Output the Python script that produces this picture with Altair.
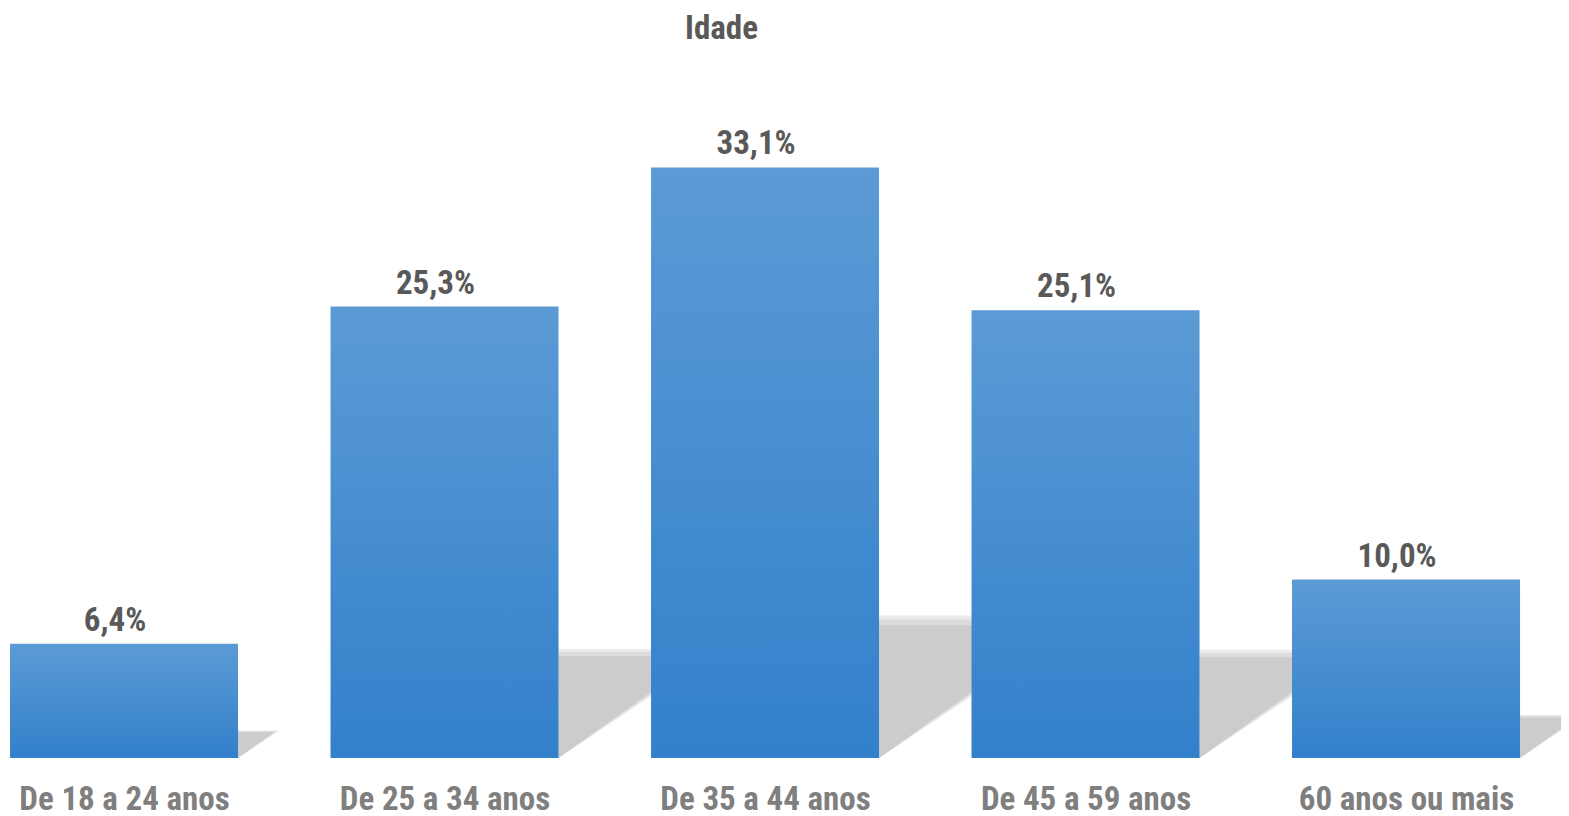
import altair as alt
import pandas as pd

categories = ["De 18 a 24 anos", "De 25 a 34 anos", "De 35 a 44 anos", "De 45 a 59 anos", "60 anos ou mais"]
values = [6.4, 25.3, 33.1, 25.1, 10.0]
title_text = "Idade"

FONT = "Roboto Condensed, Noto Sans Condensed, DejaVu Sans Condensed, sans-serif"
FS = 33
HALF = 0.3557          # half bar width in category units
SH_K = 0.23            # shadow height as share of bar value
SH_DX = 0.01829        # shadow horizontal reach per value unit

bars = pd.DataFrame({
    "idx": list(range(len(categories))),
    "cat": categories,
    "val": values,
    "lab": [f"{v:.1f}".replace(".", ",") + "%" for v in values],
})
bars["x0"] = bars["idx"] - HALF
bars["x1"] = bars["idx"] + HALF


def shadow_rows(scale_h, scale_w):
    rows = []
    for i, v in enumerate(values):
        xr = i + HALF
        top = SH_K * v * scale_h
        rows.append({"cat": categories[i], "x": xr, "yt": top, "yb": 0.0})
        rows.append({"cat": categories[i], "x": xr + SH_DX * v * scale_w, "yt": top, "yb": top})
    return pd.DataFrame(rows)


shadow_soft = shadow_rows(1.05, 1.10)
shadow_mid = shadow_rows(1.02, 1.03)
shadow_core = shadow_rows(0.98, 0.96)

label_expr = "[" + ",".join("'" + c + "'" for c in categories) + "][datum.value]"

xscale = alt.Scale(domain=[-0.362, 4.4835], nice=False, zero=False)
yscale = alt.Scale(domain=[0, 38], nice=False)

soft_layer = alt.Chart(shadow_soft).mark_area(color="#EBEBEB", clip=True).encode(
    x=alt.X("x:Q", scale=xscale, axis=alt.Axis(
        values=list(range(len(categories))), labelExpr=label_expr, title=None,
        domain=False, ticks=False, grid=False, labelFontSize=FS, labelFont=FONT,
        labelFontWeight="bold", labelColor="#7F7F7F", labelPadding=25, labelLimit=0)),
    y=alt.Y("yt:Q", scale=yscale, axis=None),
    y2="yb:Q",
    detail="cat:N",
)

mid_layer = alt.Chart(shadow_mid).mark_area(color="#DCDCDC", clip=True).encode(
    x=alt.X("x:Q", scale=xscale),
    y=alt.Y("yt:Q", scale=yscale),
    y2="yb:Q",
    detail="cat:N",
)

core_layer = alt.Chart(shadow_core).mark_area(color="#CCCCCC", clip=True).encode(
    x=alt.X("x:Q", scale=xscale),
    y=alt.Y("yt:Q", scale=yscale),
    y2="yb:Q",
    detail="cat:N",
)

bar_layer = alt.Chart(bars).mark_bar(
    color=alt.Gradient(gradient="linear", x1=0, x2=0, y1=0, y2=1,
                       stops=[alt.GradientStop(color="#5B9BD5", offset=0),
                              alt.GradientStop(color="#3380CB", offset=1)])
).encode(
    x=alt.X("x0:Q", scale=xscale),
    x2="x1:Q",
    y=alt.Y("val:Q", scale=yscale),
    y2=alt.datum(0),
)

text_layer = alt.Chart(bars).mark_text(
    font=FONT, fontSize=FS, fontWeight="bold", color="#595959",
    baseline="alphabetic", dy=-13, dx=-9,
).encode(
    x=alt.X("idx:Q", scale=xscale),
    y=alt.Y("val:Q", scale=yscale),
    text="lab:N",
)

chart = alt.layer(soft_layer, mid_layer, core_layer, bar_layer, text_layer).properties(
    width=1553, height=678,
    padding={"left": 0, "top": 72, "right": 0, "bottom": 58},
    autosize=alt.AutoSizeParams(type="none"),
    title=alt.TitleParams(title_text, font=FONT, fontSize=FS, fontWeight="bold",
                          color="#595959", anchor="middle", dx=-63, offset=34),
).configure_view(stroke=None)

chart.save("out.html", embed_options={"renderer": "svg", "actions": False})
